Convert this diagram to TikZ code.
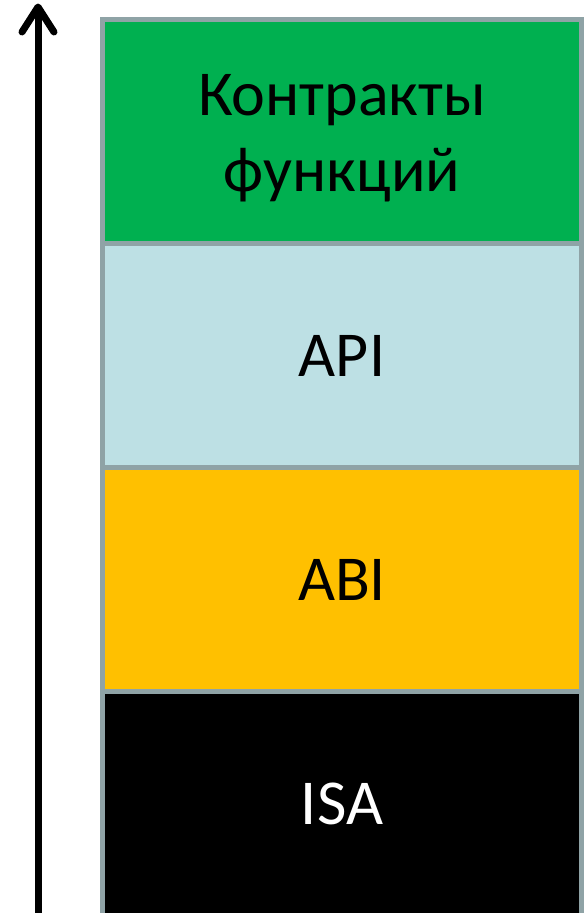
\documentclass[tikz,border=0pt]{standalone}
\usepackage{fontspec}
\setmainfont{Carlito}
\definecolor{layergreen}{HTML}{00B050}
\definecolor{layerblue}{HTML}{BDE0E4}
\definecolor{layerorange}{HTML}{FFC000}
\definecolor{layerrule}{HTML}{8FA3A6}
\tikzset{
  layer/.style={draw=layerrule, line width=5pt, minimum width=479pt, minimum height=224pt,
    inner sep=0pt, outer sep=0pt, align=center, font=\fontsize{64}{76}\selectfont, anchor=north west},
  layertext/.style={inner sep=0pt, align=center, font=\fontsize{64}{76}\selectfont},
  axisline/.style={line width=7pt, line cap=round, line join=round},
}
\begin{document}
\begin{tikzpicture}[x=1pt, y=-1pt]
  \clip (0,0) rectangle (586,913);
  \fill[white] (0,0) rectangle (586,913);
  % stacked layers, top to bottom
  \node[layer, fill=layergreen] (contracts) at (102.5,19.5) {};
  \node[layertext] (contractstext) at ([yshift=-7pt]contracts.center) {Контракты\\функций};
  \node[layer, fill=layerblue] (api) at (contracts.south west) {API};
  \node[layer, fill=layerorange] (abi) at (api.south west) {ABI};
  \node[layer, fill=black, text=white] (isa) at (abi.south west) {ISA};
  % upward axis with an open chevron head
  \coordinate (axisbot) at (38,930);
  \coordinate (axistop) at (38,7);
  \coordinate (barbleft) at (22,32);
  \coordinate (barbright) at (54,32);
  \draw[axisline, line cap=butt] (axisbot) -- (axistop);
  \draw[axisline] (barbleft) -- (axistop) -- (barbright);
\end{tikzpicture}
\end{document}
